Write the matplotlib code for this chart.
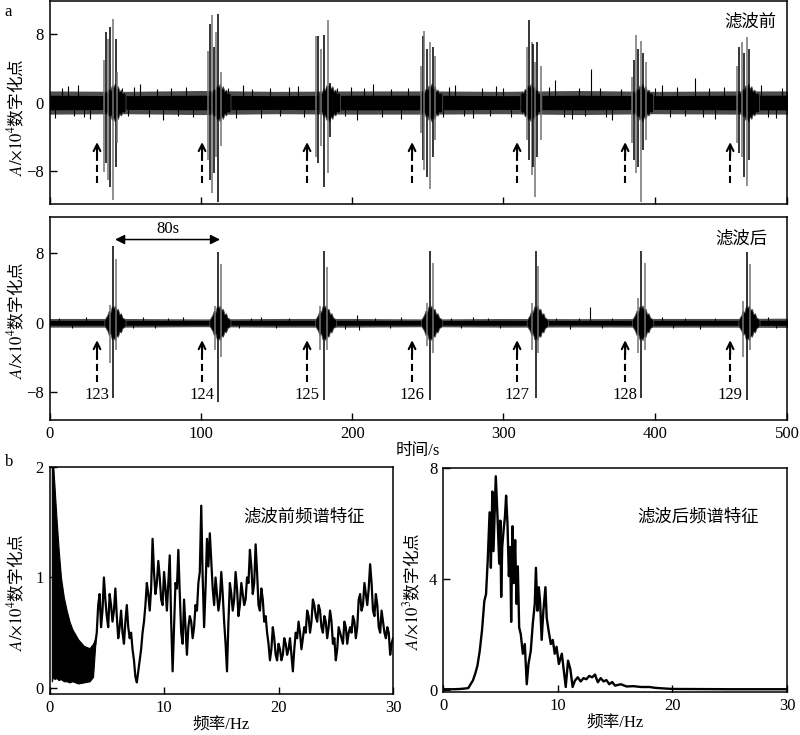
import numpy as np
import matplotlib
matplotlib.use("Agg")
import matplotlib.pyplot as plt

plt.rcParams['font.family'] = ['Liberation Serif', 'Noto Sans CJK SC']
plt.rcParams['mathtext.fontset'] = 'stix'
plt.rcParams['axes.unicode_minus'] = True

# ---------------------------------------------------------------- data
event_labels = ['123', '124', '125', '126', '127', '128', '129']
arrow_t = [31.4, 100.8, 170.2, 239.6, 309.0, 380.4, 449.8]   # s
time_ticks = [0, 100, 200, 300, 400, 487.4]
time_tick_labels = ['0', '100', '200', '300', '400', '500']
time_right = 487.4

# top panel (before filtering): burst spikes per event (x10^4)
top_spike_t = [[36.0, 37.3, 38.9, 40.0, 42.2, 43.8, 44.8],
               [105.0, 106.1, 107.2, 108.9, 110.0, 111.6, 113.1],
               [176.1, 177.7, 179.2, 181.6, 183.9, 185.4],
               [245.3, 246.6, 247.5, 249.3, 251.5, 253.3, 254.6],
               [315.4, 317.1, 318.7, 319.8, 320.9, 322.4, 324.6],
               [384.8, 386.3, 387.6, 388.9, 390.9, 392.5, 394.2],
               [454.2, 455.9, 457.5, 459.0, 460.8, 462.1]]
top_spike_hi = [[5.0, 8.2, 7.4, 8.8, 9.7, 7.4, 3.6],
                [6.0, 9.1, 10.2, 6.5, 8.2, 10.3, 3.5],
                [7.7, 7.7, 6.2, 7.9, 9.6, 2.3],
                [4.2, 7.7, 8.3, 6.2, 7.0, 6.5, 5.4],
                [6.5, 9.6, 7.0, 6.8, 4.7, 7.0, 4.2],
                [3.0, 5.0, 7.8, 6.2, 7.1, 5.8, 4.7],
                [4.2, 6.5, 7.0, 5.8, 7.6, 6.2]]
top_spike_lo = [[-8.1, -7.0, -9.0, -9.8, -11.3, -7.5, -4.7],
                [-6.7, -9.0, -10.5, -8.2, -6.3, -11.6, -5.1],
                [-6.3, -7.0, -5.1, -9.8, -8.2, -4.0],
                [-3.5, -6.7, -7.8, -8.6, -10.0, -6.3, -4.3],
                [-4.3, -6.7, -8.4, -7.5, -11.0, -6.3, -4.3],
                [-4.7, -6.7, -8.2, -7.5, -11.6, -5.5, -4.3],
                [-4.7, -5.9, -6.3, -8.6, -9.7, -6.7]]
# background noise envelope (top)
top_env_t = [0, 50, 100, 150, 200, 250, 300, 350, 400, 450, 500]
top_core = [0.85, 0.8, 0.85, 0.8, 0.85, 0.85, 0.8, 0.85, 0.8, 0.85, 0.85]
top_fringe = [1.35, 1.3, 1.4, 1.3, 1.35, 1.35, 1.3, 1.4, 1.3, 1.35, 1.35]
top_out_t = [3.6, 8, 12, 16, 18.8, 23, 27, 48, 52, 56, 60, 66, 71, 75, 80, 85, 90, 95,
             118, 123, 128, 134, 140, 146, 152, 158, 164, 168, 190, 195, 199, 203,
             208, 214, 220, 226, 232, 237, 260, 264, 268, 274, 280, 286, 291, 295,
             300, 305, 330, 334, 340, 345, 350, 354, 358, 364, 368, 372, 378, 400,
             405, 410, 415, 420, 426.6, 432, 436, 440, 446, 470, 475, 480, 484]
top_out_v = [-1.75, 1.7, 1.9, -1.6, 2.0, -1.7, -1.9, 1.7, -1.6, 1.8, 2.1, -1.7, 1.6,
             -2.0, 1.7, -1.6, 1.8, -1.7, 1.7, -1.8, 2.0, 1.6, -1.8, 1.7, -1.6, 1.8,
             1.9, -1.7, 1.7, -1.6, 1.8, -2.0, 1.7, 2.1, -1.7, 1.6, -1.9, 1.7, -1.7,
             1.8, 2.0, -1.6, -1.8, 1.7, -1.6, 1.9, 1.7, -1.7, 1.8, 2.6, -1.7, -1.9,
             1.7, -1.6, 3.9, 1.7, -1.7, -2.0, 1.6, 1.7, 2.0, -1.7, 1.8, -1.6, 2.8,
             -1.7, 1.7, -1.9, 1.8, 2.0, -1.7, -1.8, 1.7]
# burst envelope shape (offset from the largest spike, s)
burst_dt = [-6, -5, -4, -3, -2, -1, 0, 1, 2, 3, 4, 5, 6, 7, 8]
top_burst_amp = [1.0, 1.3, 1.1, 1.6, 1.4, 2.0, 1.8, 2.2, 1.6, 1.9, 1.3, 1.5, 1.1, 1.2, 1.0]
mid_burst_amp = [0.3, 0.6, 0.9, 1.4, 1.2, 1.9, 1.7, 2.0, 1.5, 1.6, 1.0, 1.1, 0.6, 0.5, 0.3]

# middle panel (after filtering)
mid_spike_t = [[40.0, 42.2, 43.9], [109.4, 111.6, 113.1], [178.8, 181.4, 183.2],
               [249.3, 251.5, 253.3], [318.7, 321.4, 323.1], [388.8, 390.9, 393.6],
               [458.6, 461.2, 463.0]]
mid_spike_hi = [[2.1, 8.8, 7.4], [1.9, 8.2, 6.8], [1.9, 8.3, 6.4], [2.3, 8.3, 6.9],
                [2.3, 8.3, 6.6], [2.9, 8.3, 6.9], [2.5, 8.2, 6.8]]
mid_spike_lo = [[-4.6, -8.7, -3.1], [-3.1, -9.1, -3.9], [-3.1, -8.9, -3.1],
                [-2.7, -8.9, -3.5], [-3.1, -8.7, -3.5], [-3.5, -8.7, -3.1],
                [-3.9, -8.9, -3.1]]
mid_env_t = [0, 50, 100, 150, 200, 250, 300, 350, 400, 450, 500]
mid_core = [0.28, 0.28, 0.26, 0.28, 0.28, 0.26, 0.28, 0.26, 0.28, 0.28, 0.3]
mid_fringe = [0.5, 0.5, 0.45, 0.5, 0.5, 0.45, 0.5, 0.48, 0.5, 0.5, 0.55]
mid_out_t = [6, 15, 24, 55, 62, 70, 78, 88, 125, 133, 140, 150, 158, 195, 203,
             204.5, 215, 225, 232, 265, 272, 280, 290, 298, 335, 344, 350, 357,
             365, 372, 405, 412, 420, 430, 440, 475, 480]
mid_out_v = [0.6, -0.6, 0.7, -0.6, 0.7, -0.6, 0.6, 0.7, -0.6, 0.6, 0.7, -0.6, 0.6,
             -0.7, 0.9, -0.8, 0.6, -0.6, 0.7, 0.6, -0.6, 0.7, 0.6, -0.6, 0.6, -0.7,
             0.6, 1.8, -0.6, 0.6, 0.7, -0.6, 0.6, -0.7, 0.6, 0.7, -0.6]
span_start, span_end, span_label = 43.3, 112.7, '80s'

# spectrum before filtering (x10^4)
f_low = [0.2, 0.3, 0.45, 0.6, 0.8, 1.0, 1.25, 1.5, 1.75, 2.0, 2.5, 3.0, 3.5, 3.8, 4.0]
low_hi = [2.1, 2.05, 1.8, 1.55, 1.25, 1.0, 0.82, 0.70, 0.60, 0.53, 0.44, 0.38, 0.36, 0.40, 0.45]
low_lo = [0.06, 0.10, 0.08, 0.09, 0.07, 0.08, 0.06, 0.06, 0.05, 0.06, 0.04, 0.05, 0.06, 0.10, 0.40]
f_before_start, f_before_step = 4.0, 0.25
a_before = [0.40, 0.75, 0.55, 1.00, 0.65, 0.85, 0.60, 0.90, 0.45, 0.70,
            0.40, 0.75, 0.45, 0.35, 0.10, 0.15, 0.35, 0.60, 0.95, 0.70,
            1.35, 0.85, 1.15, 0.80, 1.05, 0.70, 1.20, 0.15, 0.95, 1.25,
            0.50, 0.80, 0.30, 0.65, 0.45, 0.75, 0.95, 1.65, 0.55, 1.35,
            1.40, 0.90, 1.00, 0.70, 1.05, 0.60, 0.15, 0.95, 0.70, 1.05,
            0.65, 0.95, 0.75, 1.00, 1.25, 0.85, 1.30, 0.75, 0.90, 0.60,
            0.50, 0.25, 0.55, 0.30, 0.40, 0.25, 0.45, 0.30, 0.45, 0.15,
            0.50, 0.60, 0.35, 0.55, 0.70, 0.50, 0.80, 0.65, 0.75, 0.55,
            0.65, 0.45, 0.70, 0.40, 0.25, 0.55, 0.45, 0.60, 0.40, 0.55,
            0.65, 0.45, 0.80, 0.70, 0.95, 0.75, 1.12, 0.70, 0.85, 0.55,
            0.70, 0.50, 0.55, 0.30, 0.45]
# values read half-way between the samples above
a_before_mid = [0.50, 0.85, 0.70, 0.80, 0.55, 0.75, 0.70, 0.65, 0.55, 0.50,
                0.60, 0.55, 0.50, 0.25, 0.05, 0.25, 0.50, 0.75, 0.85, 0.90,
                1.05, 0.95, 1.00, 0.75, 0.90, 0.95, 0.60, 0.55, 0.90, 0.85,
                0.40, 0.55, 0.55, 0.60, 0.55, 0.70, 1.05, 1.00, 0.90, 1.10,
                1.15, 0.75, 0.85, 0.80, 0.85, 0.40, 0.60, 0.85, 0.80, 0.90,
                0.75, 0.85, 0.80, 0.95, 1.10, 0.95, 1.05, 0.70, 0.80, 0.65,
                0.40, 0.35, 0.45, 0.25, 0.35, 0.30, 0.40, 0.35, 0.30, 0.35,
                0.45, 0.50, 0.45, 0.50, 0.65, 0.60, 0.75, 0.60, 0.70, 0.50,
                0.60, 0.55, 0.60, 0.45, 0.35, 0.50, 0.40, 0.55, 0.50, 0.50,
                0.60, 0.55, 0.85, 0.75, 0.85, 0.90, 0.95, 0.65, 0.75, 0.50,
                0.60, 0.45, 0.50, 0.40]

# spectrum after filtering (x10^3)
f_after = [0, 0.5, 1.0, 1.5, 2.0, 2.2, 2.4, 2.6, 2.8, 3.0, 3.2, 3.4, 3.6, 3.75, 3.9,
           4.06, 4.17, 4.3, 4.4, 4.6, 4.75, 4.9, 5.0, 5.07, 5.16, 5.28, 5.4, 5.5,
           5.62, 5.74, 5.86, 5.94, 6.06, 6.17, 6.29, 6.41, 6.52, 6.64, 6.78, 6.96,
           7.13, 7.3, 7.45, 7.65, 7.83, 8.0, 8.1, 8.23, 8.35, 8.46, 8.6, 8.75, 8.93,
           9.04, 9.2, 9.4, 9.57, 9.74, 9.9, 10.1, 10.36, 10.7, 10.9, 11.1, 11.3,
           11.5, 11.75, 12.0, 12.25, 12.5, 12.75, 13.0, 13.25, 13.5, 13.75, 14.0,
           14.25, 14.5, 14.75, 15.0, 15.5, 16.0, 16.6, 17.3, 18.0, 18.5, 19.2,
           20.0, 25.0, 30.0]
a_after = [0.02, 0.02, 0.02, 0.03, 0.05, 0.06, 0.2, 0.33, 0.57, 0.87, 1.4, 2.15, 3.2,
           3.45, 4.7, 6.4, 4.4, 7.15, 5.0, 7.7, 6.25, 4.55, 6.1, 3.35, 5.15, 5.75,
           6.25, 7.0, 6.0, 4.1, 5.15, 2.45, 5.9, 3.85, 5.4, 3.1, 4.45, 2.25, 2.0,
           1.3, 1.65, 0.2, 0.93, 1.4, 2.4, 3.1, 4.4, 2.85, 3.7, 3.2, 1.8, 2.85, 3.7,
           2.6, 2.15, 1.65, 1.8, 1.3, 1.55, 0.93, 1.3, 0.1, 1.05, 0.75, 0.1,
           0.33, 0.45, 0.3, 0.42, 0.38, 0.5, 0.45, 0.55, 0.27, 0.42, 0.3,
           0.35, 0.2, 0.28, 0.15, 0.2, 0.12, 0.13, 0.1, 0.1, 0.07, 0.05,
           0.03, 0.02, 0.02]

# ---------------------------------------------------------------- figure
fig = plt.figure(figsize=(8.0, 7.35), dpi=100)
ax1 = fig.add_axes([0.0619, 0.7224, 0.9219, 0.2762])
ax2 = fig.add_axes([0.0619, 0.4286, 0.9219, 0.2762])
ax3 = fig.add_axes([0.0619, 0.0558, 0.4294, 0.3088])
ax4 = fig.add_axes([0.5538, 0.0585, 0.4300, 0.3048])

TICK = 12
CJK = 12.5


def style(ax):
    for s in ax.spines.values():
        s.set_linewidth(1.1)
    ax.tick_params(direction='in', length=5, width=1, labelsize=TICK,
                   top=False, right=False, pad=4)


def ylab(ax, text, x, y):
    ax.set_ylabel(text, fontsize=12, family='Noto Sans CJK SC')
    ax.yaxis.set_label_coords(x, y)


def draw_trace(ax, env_t, core, fringe, spikes_t, spikes_hi, spikes_lo, bamp,
               out_t, out_v):
    env_t = np.array(env_t)
    ax.fill_between(env_t, -np.array(fringe), fringe, color='0.3', lw=0, zorder=1)
    ax.fill_between(env_t, -np.array(core), core, color='black', lw=0, zorder=2)
    ax.vlines(out_t, np.minimum(out_v, 0), np.maximum(out_v, 0), colors='black',
              lw=0.8, zorder=2)
    for ts, hs, ls in zip(spikes_t, spikes_hi, spikes_lo):
        peak = ts[int(np.argmax(np.array(hs) - np.array(ls)))]
        bt = peak + np.array(burst_dt)
        ax.fill_between(bt, -np.array(bamp), bamp, color='black', lw=0.6,
                        edgecolor='0.3', zorder=2)
        cols = ['0.45' if i % 2 == 0 else 'black' for i in range(len(ts))]
        ax.vlines(ts, ls, hs, colors=cols, lw=1.1, zorder=3)


def dashed_arrow(ax, x, y0, y1):
    ax.plot([x, x], [y0, y1 - 0.6], color='black', lw=1.5,
            dashes=(3.4, 1.9), zorder=4)
    ax.annotate('', xy=(x, y1), xytext=(x, y1 - 1.6),
                arrowprops=dict(arrowstyle='->', lw=1.5, color='black',
                                mutation_scale=12, shrinkA=0, shrinkB=0), zorder=4)


# top panel
style(ax1)
draw_trace(ax1, top_env_t, top_core, top_fringe, top_spike_t, top_spike_hi,
           top_spike_lo, top_burst_amp, top_out_t, top_out_v)
for x in arrow_t:
    dashed_arrow(ax1, x, -9.4, -4.6)
ax1.set_xlim(0, time_right)
ax1.set_ylim(-11.8, 11.8)
ax1.set_xticks(time_ticks)
ax1.set_xticklabels([])
ax1.set_yticks([-8, 0, 8])
ax1.set_yticklabels(['\u22128', '0', '8'])
ax1.text(0.986, 0.895, '滤波前', transform=ax1.transAxes, ha='right', va='center',
         fontsize=CJK)
ylab(ax1, '$A/{\\times}10^4$数字化点', -0.031, 0.43)

# middle panel
style(ax2)
draw_trace(ax2, mid_env_t, mid_core, mid_fringe, mid_spike_t, mid_spike_hi,
           mid_spike_lo, mid_burst_amp, mid_out_t, mid_out_v)
for x, lab in zip(arrow_t, event_labels):
    dashed_arrow(ax2, x, -6.8, -2.0)
    ax2.text(x, -8.3, lab, ha='center', va='center', fontsize=TICK)
ax2.annotate('', xy=(span_start, 9.6), xytext=(span_end, 9.6),
             arrowprops=dict(arrowstyle='<|-|>', lw=1.1, color='black',
                             mutation_scale=14, shrinkA=0, shrinkB=0))
ax2.text((span_start + span_end) / 2, 9.9, span_label, ha='center', va='bottom',
         fontsize=TICK)
ax2.set_xlim(0, time_right)
ax2.set_ylim(-11.2, 12.2)
ax2.set_xticks(time_ticks)
ax2.set_xticklabels(time_tick_labels)
ax2.set_yticks([-8, 0, 8])
ax2.set_yticklabels(['\u22128', '0', '8'])
ax2.set_xlabel('时间/s', fontsize=12, labelpad=1)
ax2.text(0.973, 0.89, '滤波后', transform=ax2.transAxes, ha='right', va='center',
         fontsize=CJK)
ylab(ax2, '$A/{\\times}10^4$数字化点', -0.031, 0.49)

# bottom-left spectrum
style(ax3)
f_b, a_b = [], []
for i, v in enumerate(a_before):
    f_b.append(f_before_start + f_before_step * i)
    a_b.append(v)
    if i < len(a_before_mid):
        f_b.append(f_before_start + f_before_step * (i + 0.5))
        a_b.append(a_before_mid[i])
ax3.fill_between(f_low, low_lo, low_hi, color='black', lw=0.8)
ax3.plot(f_b, a_b, color='black', lw=1.6)
ax3.set_xlim(0, 30)
ax3.set_ylim(-0.055, 2.0)
ax3.set_xticks([0, 10, 20, 30])
ax3.set_yticks([0, 1, 2])
ax3.set_xlabel('频率/Hz', fontsize=12, labelpad=1)
ax3.text(0.74, 0.78, '滤波前频谱特征', transform=ax3.transAxes, ha='center',
         va='center', fontsize=CJK)
ylab(ax3, '$A/{\\times}10^4$数字化点', -0.066, 0.45)

# bottom-right spectrum
style(ax4)
ax4.plot(f_after, a_after, color='black', lw=1.7)
ax4.set_xlim(0, 30)
ax4.set_ylim(-0.08, 8.0)
ax4.set_xticks([0, 10, 20, 30])
ax4.set_yticks([0, 4, 8])
ax4.set_xlabel('频率/Hz', fontsize=12, labelpad=1)
ax4.text(0.74, 0.78, '滤波后频谱特征', transform=ax4.transAxes, ha='center',
         va='center', fontsize=CJK)
ylab(ax4, '$A/{\\times}10^3$数字化点', -0.058, 0.45)

fig.text(0.006, 1 - 12 / 735, 'a', fontsize=TICK, va='center')
fig.text(0.006, 1 - 462 / 735, 'b', fontsize=TICK, va='center')

fig.savefig('out.png', dpi=100)
